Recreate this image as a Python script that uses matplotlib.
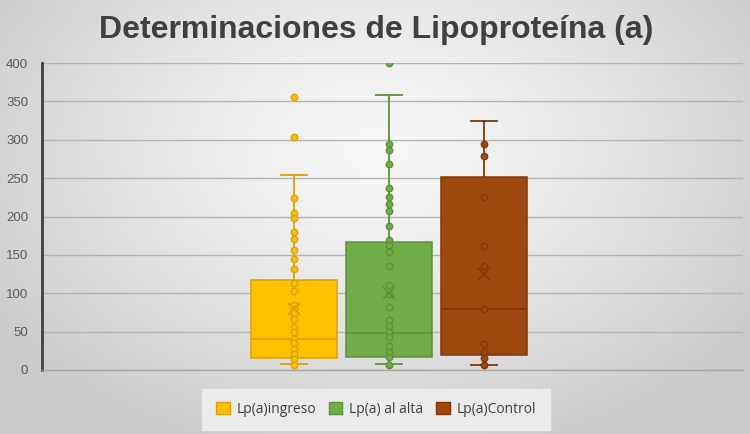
import numpy as np
import matplotlib
matplotlib.use("Agg")
import matplotlib.pyplot as plt
from matplotlib.patches import Patch

# ---- data ----
series = ["Lp(a)ingreso", "Lp(a) al alta", "Lp(a)Control"]
colors = ["#FFC000", "#70AD47", "#9E480E"]
edges = ["#D9A300", "#5B9238", "#7E380A"]

q1 = [15, 16.5, 19.5]
median = [40, 48.6, 79]
q3 = [117, 166.4, 252]
whis_lo = [7.4, 7.4, 6.5]
whis_hi = [253.6, 358, 324.8]
means = [80, 100, 125]

pts_ingreso = [356, 304, 224, 204, 198, 180, 171, 156, 145, 132, 113, 103,
               85, 80, 74, 67, 56, 49, 41, 35, 27, 21, 14, 7]
pts_alta = [400, 295, 287, 269, 237, 225, 216, 207, 187, 170, 163, 154,
            136, 111, 99, 82, 65, 57, 50, 43, 31, 24, 17, 7]
pts_control = [295, 279, 225, 161, 136, 79, 34, 23, 15, 7]
points = [pts_ingreso, pts_alta, pts_control]

yticks = [0, 50, 100, 150, 200, 250, 300, 350, 400]
title = "Determinaciones de Lipoproteína (a)"

# ---- figure ----
fig = plt.figure(figsize=(7.5, 4.34), dpi=100)

# radial gray background
bg = fig.add_axes([0, 0, 1, 1], zorder=-10)
W, H = 750, 434
xx, yy = np.meshgrid(np.arange(W), np.arange(H))
d = np.sqrt(((xx - 375) / 470.0) ** 2 + ((yy - 150) / 330.0) ** 2)
d = np.clip(d, 0, 1)
c0, c1 = 0.97, 0.79
img = c0 + (c1 - c0) * d ** 1.3
bg.imshow(np.dstack([img, img, img]), extent=[0, 1, 0, 1], aspect="auto", origin="upper")
bg.axis("off")

ax = fig.add_axes([42 / W, 1 - 370 / H, 701 / W, 307 / H])
ax.patch.set_alpha(0)

positions = [1, 2, 3]
stats = []
for i in range(3):
    stats.append(dict(med=median[i], q1=q1[i], q3=q3[i], whislo=whis_lo[i],
                      whishi=whis_hi[i], mean=means[i], fliers=[], label=series[i]))

for i in range(3):
    ax.bxp([stats[i]], positions=[positions[i]], widths=0.905, patch_artist=True,
           showmeans=False, showfliers=False, showcaps=True,
           boxprops=dict(facecolor=colors[i], edgecolor=edges[i], linewidth=1.1),
           medianprops=dict(color=edges[i], linewidth=1.2),
           whiskerprops=dict(color=edges[i], linewidth=1.3),
           capprops=dict(color=edges[i], linewidth=1.3),
           capwidths=0.27, zorder=3)
    ax.plot([positions[i]] * len(points[i]), points[i], "o", ms=4.6,
            markerfacecolor=colors[i], markeredgecolor=edges[i], markeredgewidth=1.0,
            zorder=4, linestyle="none")
    ax.plot([positions[i]], [means[i]], "x", ms=8, markeredgecolor=edges[i],
            markeredgewidth=1.3, zorder=5)

ax.set_xlim(-1.653, 5.726)
ax.set_ylim(0, 400)
ax.set_yticks(yticks)
ax.set_yticklabels([str(v) for v in yticks], fontsize=9.5, color="#595959",
                   family="Liberation Sans")
ax.set_xticks([])
ax.tick_params(axis="y", length=0, pad=10)
ax.yaxis.grid(True, color="#B4B4B4", linewidth=1.0, zorder=0)
ax.set_axisbelow(True)
for s in ["top", "right"]:
    ax.spines[s].set_visible(False)
ax.spines["bottom"].set_color("#A6A6A6")
ax.spines["bottom"].set_linewidth(1.0)
ax.spines["left"].set_color("#404040")
ax.spines["left"].set_linewidth(2.0)

fig.text(376 / W, 1 - 30 / H, title, ha="center", va="center", fontsize=23,
         fontweight="bold", color="#404040", family="Liberation Sans")

handles = [Patch(facecolor=colors[i], edgecolor=edges[i], label=series[i]) for i in range(3)]
leg = fig.legend(handles=handles, loc="center", bbox_to_anchor=(376 / W, 1 - 409.5 / H),
                 ncol=3, frameon=True, handlelength=1.0, handleheight=1.0,
                 handletextpad=0.5, columnspacing=0.9, borderpad=0.95,
                 prop=dict(family="Open Sans", size=10))
leg.get_frame().set_facecolor("#EBEBEB")
leg.get_frame().set_edgecolor("#EBEBEB")
leg.get_frame().set_alpha(1)
leg.get_frame().set_boxstyle("square", pad=0)
for t in leg.get_texts():
    t.set_color("#404040")

fig.savefig("out.png", dpi=100)
